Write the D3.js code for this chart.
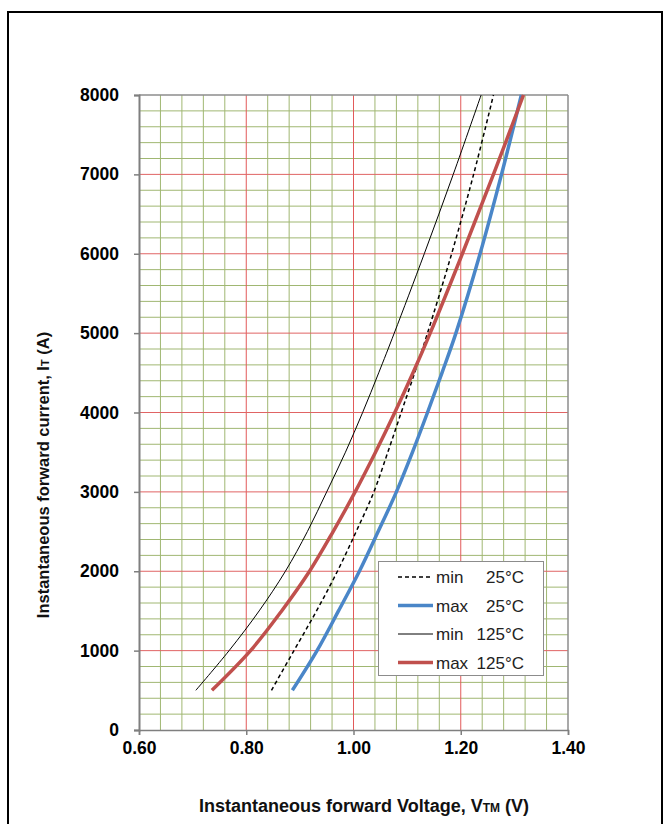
<!DOCTYPE html>
<html>
<head>
<meta charset="utf-8">
<script src="https://cdn.jsdelivr.net/npm/d3@7"></script>
<style>
  html, body { margin: 0; padding: 0; background: #fff; }
  svg { display: block; }
  text { font-family: "Liberation Sans", Arial, sans-serif; }
</style>
</head>
<body>
<svg id="chart" width="665" height="824"></svg>
<script>
// ---- data ----
const currents = [500, 1000, 1500, 2000, 2500, 3000, 3500, 4000, 4500, 5000, 6000, 7000, 8000];
const vMin25  = [0.847, 0.889, 0.931, 0.970, 1.005, 1.038, 1.064, 1.089, 1.114, 1.138, 1.183, 1.224, 1.261];
const vMax25  = [0.886, 0.932, 0.972, 1.011, 1.046, 1.080, 1.110, 1.138, 1.165, 1.191, 1.236, 1.276, 1.313];
const vMin125 = [0.706, 0.768, 0.824, 0.873, 0.914, 0.950, 0.985, 1.017, 1.047, 1.076, 1.132, 1.186, 1.238];
const vMax125 = [0.736, 0.808, 0.866, 0.918, 0.962, 1.003, 1.041, 1.077, 1.111, 1.143, 1.203, 1.261, 1.317];

const xTicks = [0.60, 0.80, 1.00, 1.20, 1.40];
const yTicks = [0, 1000, 2000, 3000, 4000, 5000, 6000, 7000, 8000];
const xMinorStep = 0.04;
const yMinorStep = 200;

const seriesNames = ["min", "max", "min", "max"];
const seriesTemps = ["25°C", "25°C", "125°C", "125°C"];

// ---- layout ----
const svg = d3.select("#chart");
const pLeft = 139, pRight = 568, pTop = 95, pBottom = 730;

const x = d3.scaleLinear().domain([0.6, 1.4]).range([pLeft, pRight]);
const y = d3.scaleLinear().domain([0, 8000]).range([pBottom, pTop]);

// outer frame
svg.append("rect").attr("x", 8).attr("y", 12).attr("width", 654).attr("height", 840)
  .attr("fill", "none").attr("stroke", "#000").attr("stroke-width", 2);

// minor grid
const xMinor = d3.range(0.6 + xMinorStep, 1.4 - 1e-9, xMinorStep).filter(v => Math.abs((v * 5) - Math.round(v * 5)) > 1e-6);
const yMinor = d3.range(yMinorStep, 8000, yMinorStep).filter(v => v % 1000 !== 0);
const g = svg.append("g");
g.selectAll(".vmin").data(xMinor).join("line")
  .attr("x1", d => x(d)).attr("x2", d => x(d)).attr("y1", pTop).attr("y2", pBottom)
  .attr("stroke", "#a0b772").attr("stroke-width", 1);
g.selectAll(".hmin").data(yMinor).join("line")
  .attr("x1", pLeft).attr("x2", pRight).attr("y1", d => y(d)).attr("y2", d => y(d))
  .attr("stroke", "#a0b772").attr("stroke-width", 1);
// major grid (red)
g.selectAll(".vmaj").data(xTicks.slice(1, -1)).join("line")
  .attr("x1", d => x(d)).attr("x2", d => x(d)).attr("y1", pTop).attr("y2", pBottom)
  .attr("stroke", "#e25a5a").attr("stroke-width", 1);
g.selectAll(".hmaj").data(yTicks.slice(1, -1)).join("line")
  .attr("x1", pLeft).attr("x2", pRight).attr("y1", d => y(d)).attr("y2", d => y(d))
  .attr("stroke", "#e06464").attr("stroke-width", 1);

// plot border (top/right)
svg.append("line").attr("x1", pLeft).attr("x2", pRight).attr("y1", pTop).attr("y2", pTop)
  .attr("stroke", "#8c8c8c").attr("stroke-width", 1.5);
svg.append("line").attr("x1", pRight).attr("x2", pRight).attr("y1", pTop).attr("y2", pBottom)
  .attr("stroke", "#8c8c8c").attr("stroke-width", 1.5);

// axes
const yAxis = d3.axisLeft(y).tickValues(yTicks).tickSize(5).tickFormat(d3.format("d"));
const xAxis = d3.axisBottom(x).tickValues(xTicks).tickSize(5).tickFormat(d3.format(".2f"));

const ya = svg.append("g").attr("transform", `translate(${pLeft},0)`).call(yAxis);
ya.select(".domain").attr("stroke", "#7f7f7f").attr("stroke-width", 2);
ya.selectAll(".tick line").attr("stroke", "#7f7f7f").attr("stroke-width", 1.5);
ya.selectAll(".tick text").attr("x", -20).attr("font-size", 17.5).attr("font-weight", "bold")
  .attr("fill", "#000").style("font-family", "'Liberation Sans', Arial, sans-serif");

const xa = svg.append("g").attr("transform", `translate(0,${pBottom})`).call(xAxis);
xa.select(".domain").attr("stroke", "#7f7f7f").attr("stroke-width", 1.5);
xa.selectAll(".tick line").attr("stroke", "#7f7f7f").attr("stroke-width", 1.5);
xa.selectAll(".tick text").attr("y", 11.5).attr("font-size", 17.5).attr("font-weight", "bold")
  .attr("fill", "#000").style("font-family", "'Liberation Sans', Arial, sans-serif");

// curves
const series = [
  { v: vMin25,  color: "#000",    width: 1.5, dash: "4,3" },
  { v: vMax25,  color: "#4a86c8", width: 3.5, dash: null },
  { v: vMin125, color: "#000",    width: 1,   dash: null },
  { v: vMax125, color: "#c0504d", width: 3.5, dash: null }
];
const line = d3.line().x(d => x(d[0])).y(d => y(d[1])).curve(d3.curveCatmullRom.alpha(0.5));
const drawOrder = [0, 2, 1, 3];
drawOrder.forEach(i => {
  const s = series[i];
  const pts = s.v.map((v, k) => [v, currents[k]]);
  svg.append("path").datum(pts).attr("d", line)
    .attr("fill", "none").attr("stroke", s.color).attr("stroke-width", s.width)
    .attr("stroke-dasharray", s.dash).attr("stroke-linecap", "butt");
});

// legend
const lg = svg.append("g");
lg.append("rect").attr("x", 378.5).attr("y", 561.5).attr("width", 165).attr("height", 114)
  .attr("fill", "#fff").attr("stroke", "#8c8c8c").attr("stroke-width", 1);
series.forEach((s, i) => {
  const yy = 577 + i * 28.5;
  lg.append("line").attr("x1", 398).attr("x2", 433).attr("y1", yy).attr("y2", yy)
    .attr("stroke", s.color).attr("stroke-width", s.width).attr("stroke-dasharray", s.dash);
  lg.append("text").attr("x", 436).attr("y", yy).attr("dy", "0.36em")
    .attr("font-size", 17).attr("fill", "#222").text(seriesNames[i]);
  lg.append("text").attr("x", 524).attr("y", yy).attr("dy", "0.36em").attr("text-anchor", "end")
    .attr("font-size", 17).attr("fill", "#222").text(seriesTemps[i]);
});

// axis titles
const xt = svg.append("text").attr("x", 364).attr("y", 812).attr("text-anchor", "middle")
  .attr("font-size", 18).attr("font-weight", "bold").attr("fill", "#111");
xt.append("tspan").text("Instantaneous forward Voltage, V");
xt.append("tspan").attr("font-size", 12).text("TM");
xt.append("tspan").text(" (V)");

const yt = svg.append("text").attr("transform", "translate(49,475) rotate(-90)").attr("text-anchor", "middle")
  .attr("font-size", 16.5).attr("font-weight", "bold").attr("fill", "#111");
yt.append("tspan").text("Instantaneous forward current, I");
yt.append("tspan").attr("font-size", 11).text("T");
yt.append("tspan").text(" (A)");
</script>
</body>
</html>
